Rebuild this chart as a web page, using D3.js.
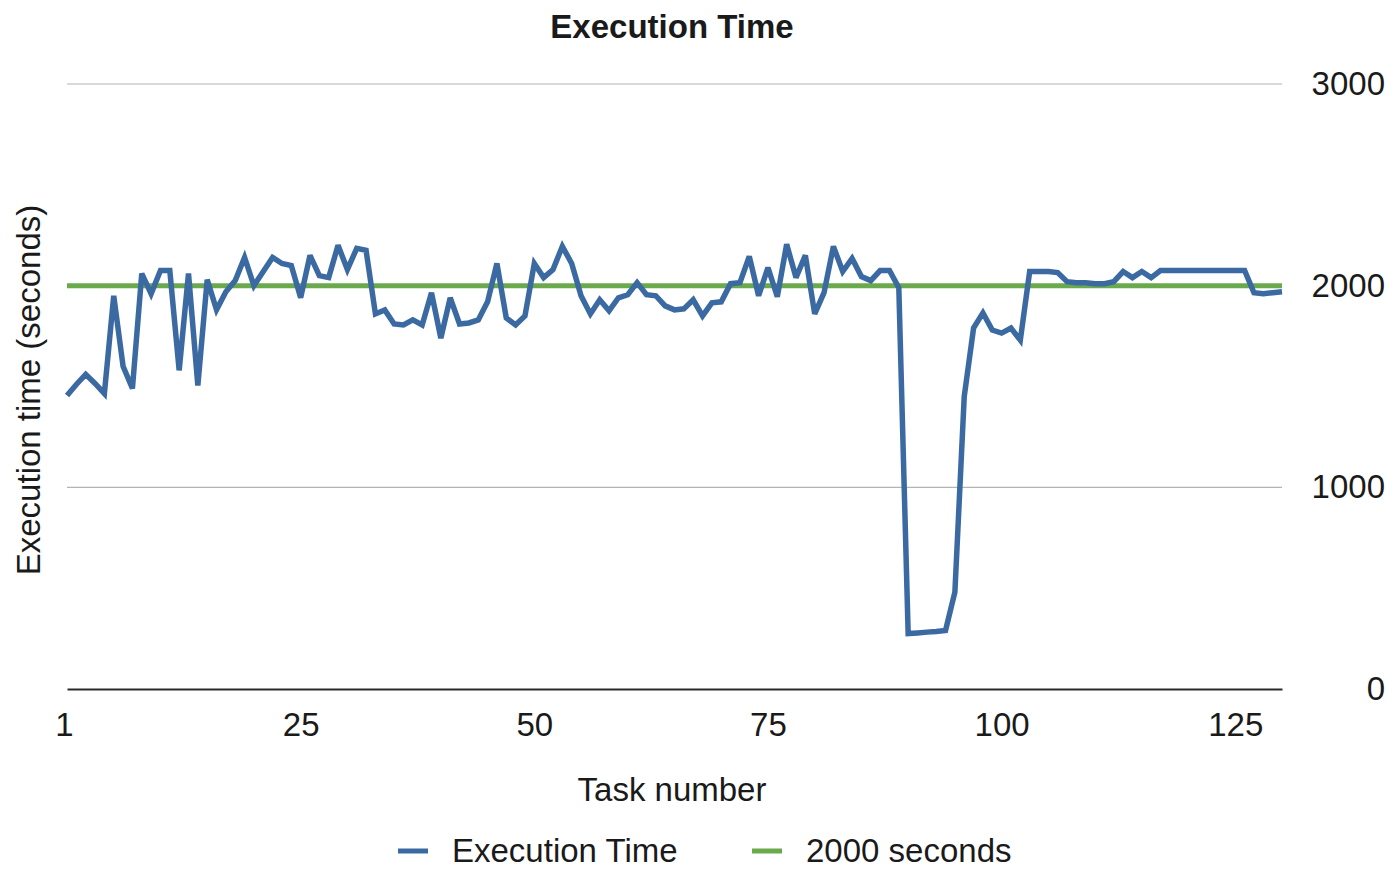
<!DOCTYPE html>
<html>
<head>
<meta charset="utf-8">
<script src="https://cdn.jsdelivr.net/npm/d3@7"></script>
<style>
  html, body { margin: 0; padding: 0; background: #fff; }
  text { font-family: "Liberation Sans", Arial, Helvetica, sans-serif; fill: #1a1a1a; }
</style>
</head>
<body>
<svg id="chart" width="1388" height="869"></svg>
<script>
// ---- data ----
const chartTitle = "Execution Time";
const xTitle = "Task number";
const yTitle = "Execution time (seconds)";
const seriesNames = ["Execution Time", "2000 seconds"];
const executionTime = [
  1455, 1510, 1560, 1515, 1465, 1950, 1600, 1490, 2060, 1960,
  2075, 2075, 1580, 2060, 1505, 2030, 1880, 1970, 2025, 2140,
  2000, 2070, 2140, 2110, 2100, 1940, 2150, 2050, 2040, 2200,
  2080, 2185, 2175, 1860, 1880, 1810, 1805, 1830, 1805, 1965,
  1740, 1940, 1810, 1815, 1830, 1920, 2110, 1840, 1805, 1850,
  2110, 2040, 2080, 2195, 2110, 1950, 1860, 1930, 1875, 1940,
  1955, 2015, 1955, 1950, 1900, 1880, 1885, 1930, 1850, 1915,
  1920, 2010, 2015, 2145, 1950, 2090, 1945, 2205, 2040, 2150,
  1860, 1965, 2195, 2070, 2135, 2045, 2025, 2075, 2075, 1990,
  275, 278, 282, 285, 290, 480, 1450, 1790, 1865, 1780,
  1765, 1790, 1730, 2070, 2070, 2070, 2065, 2020, 2015, 2015,
  2010, 2010, 2020, 2070, 2040, 2070, 2040, 2075, 2075, 2075,
  2075, 2075, 2075, 2075, 2075, 2075, 2075, 1965, 1960, 1965,
  1970
];
const thresholdValue = 2000;
const xTickPositions = [0, 25, 50, 75, 100, 125];
const xTickLabels = ["1", "25", "50", "75", "100", "125"];
const yTicks = [0, 1000, 2000, 3000];
const colors = ["#3b6aa3", "#6aaa4c"];

// ---- layout ----
const svg = d3.select("#chart");
const plotLeft = 67, plotRight = 1282, plotTop = 84, plotBottom = 689;
const fs = 33;

const x = d3.scaleLinear().domain([0, executionTime.length - 1]).range([plotLeft, plotRight]);
const y = d3.scaleLinear().domain([0, 3000]).range([plotBottom, plotTop]);

// gridlines
svg.append("g").selectAll("line")
  .data(yTicks.filter(d => d > 0))
  .join("line")
  .attr("x1", plotLeft).attr("x2", plotRight)
  .attr("y1", d => y(d)).attr("y2", d => y(d))
  .attr("stroke", "#b4b4b4").attr("stroke-width", 1.2);

// x axis
const xAxis = svg.append("g")
  .attr("transform", `translate(0,${plotBottom})`)
  .call(d3.axisBottom(x).tickValues(xTickPositions)
    .tickFormat((d, i) => xTickLabels[i]).tickSize(0).tickPadding(24));
xAxis.select(".domain").attr("stroke", "#2a2a2a").attr("stroke-width", 2.2);
xAxis.selectAll("text").attr("font-size", fs).style("font-family", "Liberation Sans, Arial, sans-serif").attr("fill", "#1a1a1a");
xAxis.selectAll(".tick").filter((d, i) => i === 0).select("text").attr("dx", -3);

// y axis on right
const yAxis = svg.append("g")
  .attr("transform", `translate(1385,0)`)
  .call(d3.axisRight(y).tickValues(yTicks).tickSize(0).tickPadding(0).tickFormat(d3.format("d")));
yAxis.select(".domain").remove();
yAxis.selectAll("text").attr("font-size", fs).attr("text-anchor", "end").attr("x", 0)
  .style("font-family", "Liberation Sans, Arial, sans-serif").attr("fill", "#1a1a1a");

// threshold line
const line = d3.line().x((d, i) => x(i)).y(d => y(d));
svg.append("path")
  .datum(executionTime.map(() => thresholdValue))
  .attr("d", line)
  .attr("fill", "none").attr("stroke", colors[1]).attr("stroke-width", 5);

// execution time line
svg.append("path")
  .datum(executionTime)
  .attr("d", line)
  .attr("fill", "none").attr("stroke", colors[0]).attr("stroke-width", 5.5)
  .attr("stroke-linejoin", "miter").attr("stroke-miterlimit", 3);

// titles
svg.append("text").attr("x", 672).attr("y", 38).attr("text-anchor", "middle")
  .attr("font-size", fs).attr("font-weight", "bold").text(chartTitle);
svg.append("text").attr("x", 672).attr("y", 801).attr("text-anchor", "middle")
  .attr("font-size", fs).text(xTitle);
svg.append("text").attr("transform", "translate(40,390) rotate(-90)").attr("text-anchor", "middle")
  .attr("font-size", fs).text(yTitle);

// legend
const legendItems = [
  { name: seriesNames[0], color: colors[0], x: 398 },
  { name: seriesNames[1], color: colors[1], x: 752 }
];
const lg = svg.append("g").selectAll("g").data(legendItems).join("g")
  .attr("transform", d => `translate(${d.x},851)`);
lg.append("line").attr("x1", 0).attr("x2", 30).attr("y1", 0).attr("y2", 0)
  .attr("stroke", d => d.color).attr("stroke-width", 5);
lg.append("text").attr("x", 54).attr("y", 11).attr("font-size", fs).text(d => d.name);
</script>
</body>
</html>
